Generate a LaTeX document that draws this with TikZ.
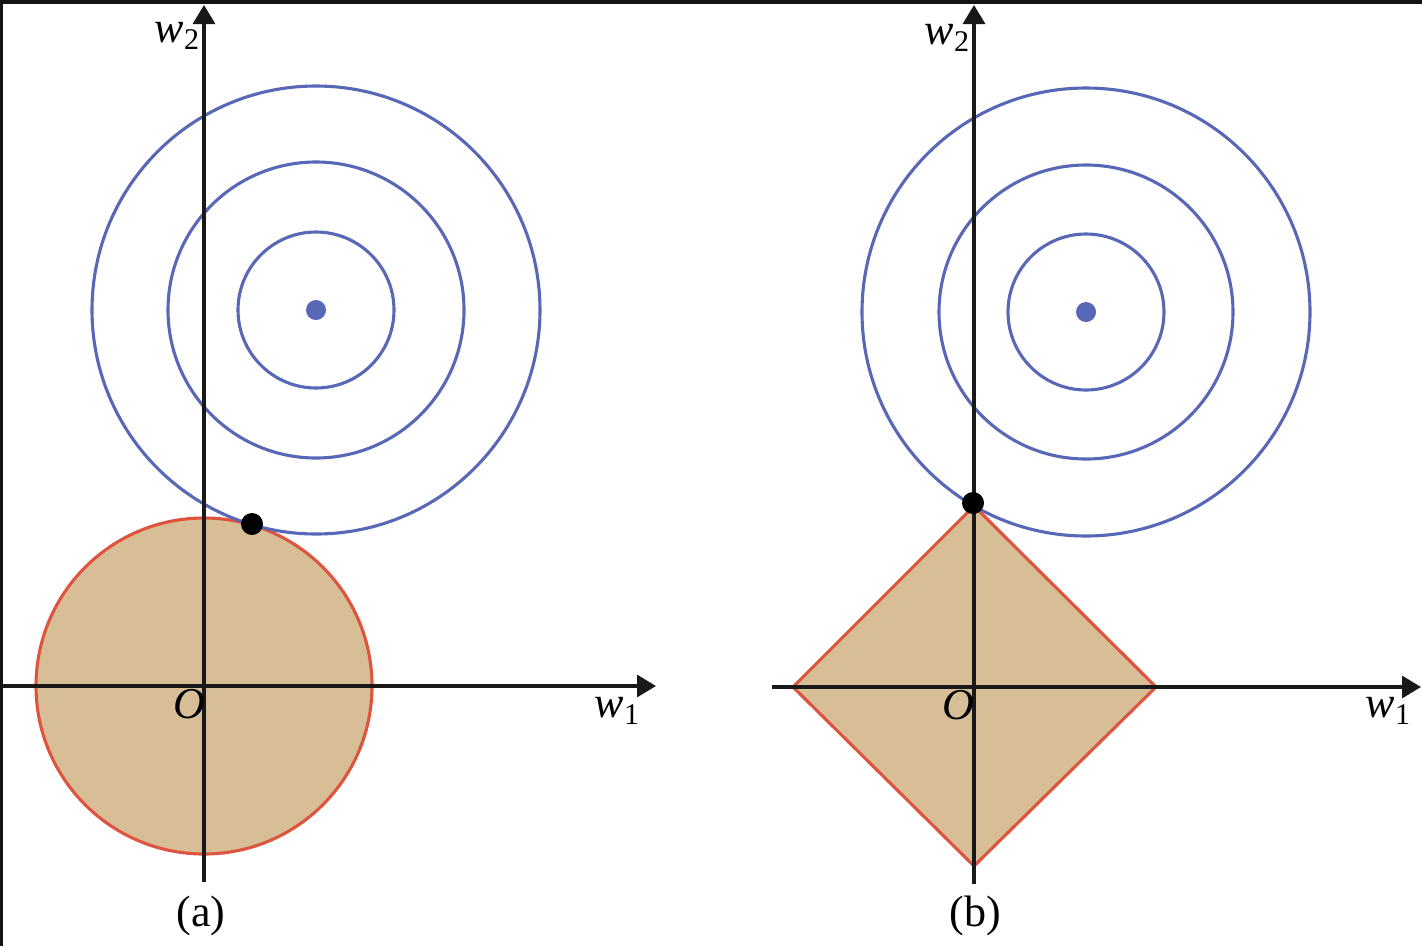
\documentclass[tikz,border=0pt]{standalone}
\usepackage{fontspec}
\setmainfont{Liberation Serif}
\usetikzlibrary{arrows.meta}
\definecolor{contour}{RGB}{88,104,182}
\definecolor{regfill}{RGB}{215,190,150}
\definecolor{regline}{RGB}{222,84,62}
\definecolor{axiscol}{RGB}{25,25,25}
\newcommand{\wlab}[1]{\textit{w}\raisebox{-7pt}{\fontsize{30}{30}\selectfont #1}}
\begin{document}
\begin{tikzpicture}[x=1pt,y=-1pt,
  axis/.style={draw=axiscol,line width=3.3pt,-{Triangle[length=19pt,width=22pt]}},
  level/.style={draw=contour,line width=3.1pt},
  region/.style={fill=regfill,draw=regline,line width=3.1pt},
  lab/.style={inner sep=0pt,anchor=base,font=\fontsize{44}{44}\selectfont},
  optdot/.style={fill=black},
  centdot/.style={fill=contour}]
\useasboundingbox (0,0) rectangle (1422,946);
\fill[white] (0,0) rectangle (1422,946);
% frame edges of the scanned figure
\fill[black!92] (0,0) rectangle (1422,4);
\fill[black!92] (0,0) rectangle (3,946);

% ---------- panel (a) ----------
\coordinate (Oa) at (204,686);
\coordinate (Ca) at (316,310);
\draw[region] (Oa) circle[radius=168];
\draw[level] (Ca) circle[radius=224];
\draw[level] (Ca) circle[radius=148];
\draw[level] (Ca) circle[radius=78];
\coordinate (xa0) at (3,686);
\coordinate (xa1) at (656,686);
\coordinate (ya0) at (204,882);
\coordinate (ya1) at (204,5);
\draw[axis] (xa0) -- (xa1);
\draw[axis] (ya0) -- (ya1);
\fill[centdot] (Ca) circle[radius=10];
\fill[optdot] (252,524) circle[radius=11];
\node[lab] (w2a) at (177,42) {\wlab{2}};
\node[lab] (Olab) at (189,718) {\textit{O}};
\node[lab] (w1a) at (617,717) {\wlab{1}};
\node[lab] (capa) at (201,926) {(a)};

% ---------- panel (b) ----------
\coordinate (Ob) at (974,687);
\coordinate (Cb) at (1086,312);
\draw[region] (793,687) -- (974,506) -- (1156,687) -- (974,866) -- cycle;
\draw[level] (Cb) circle[radius=224];
\draw[level] (Cb) circle[radius=147];
\draw[level] (Cb) circle[radius=78];
\coordinate (xb0) at (772,687);
\coordinate (xb1) at (1421,687);
\coordinate (yb0) at (974,884);
\coordinate (yb1) at (974,5);
\draw[axis] (xb0) -- (xb1);
\draw[axis] (yb0) -- (yb1);
\fill[centdot] (Cb) circle[radius=10];
\fill[optdot] (973,503) circle[radius=11];
\node[lab] (w2b) at (947,44) {\wlab{2}};
\node[lab] (Olbb) at (958,719) {\textit{O}};
\node[lab] (w1b) at (1388,717) {\wlab{1}};
\node[lab] (capb) at (975,926) {(b)};
\end{tikzpicture}
\end{document}
